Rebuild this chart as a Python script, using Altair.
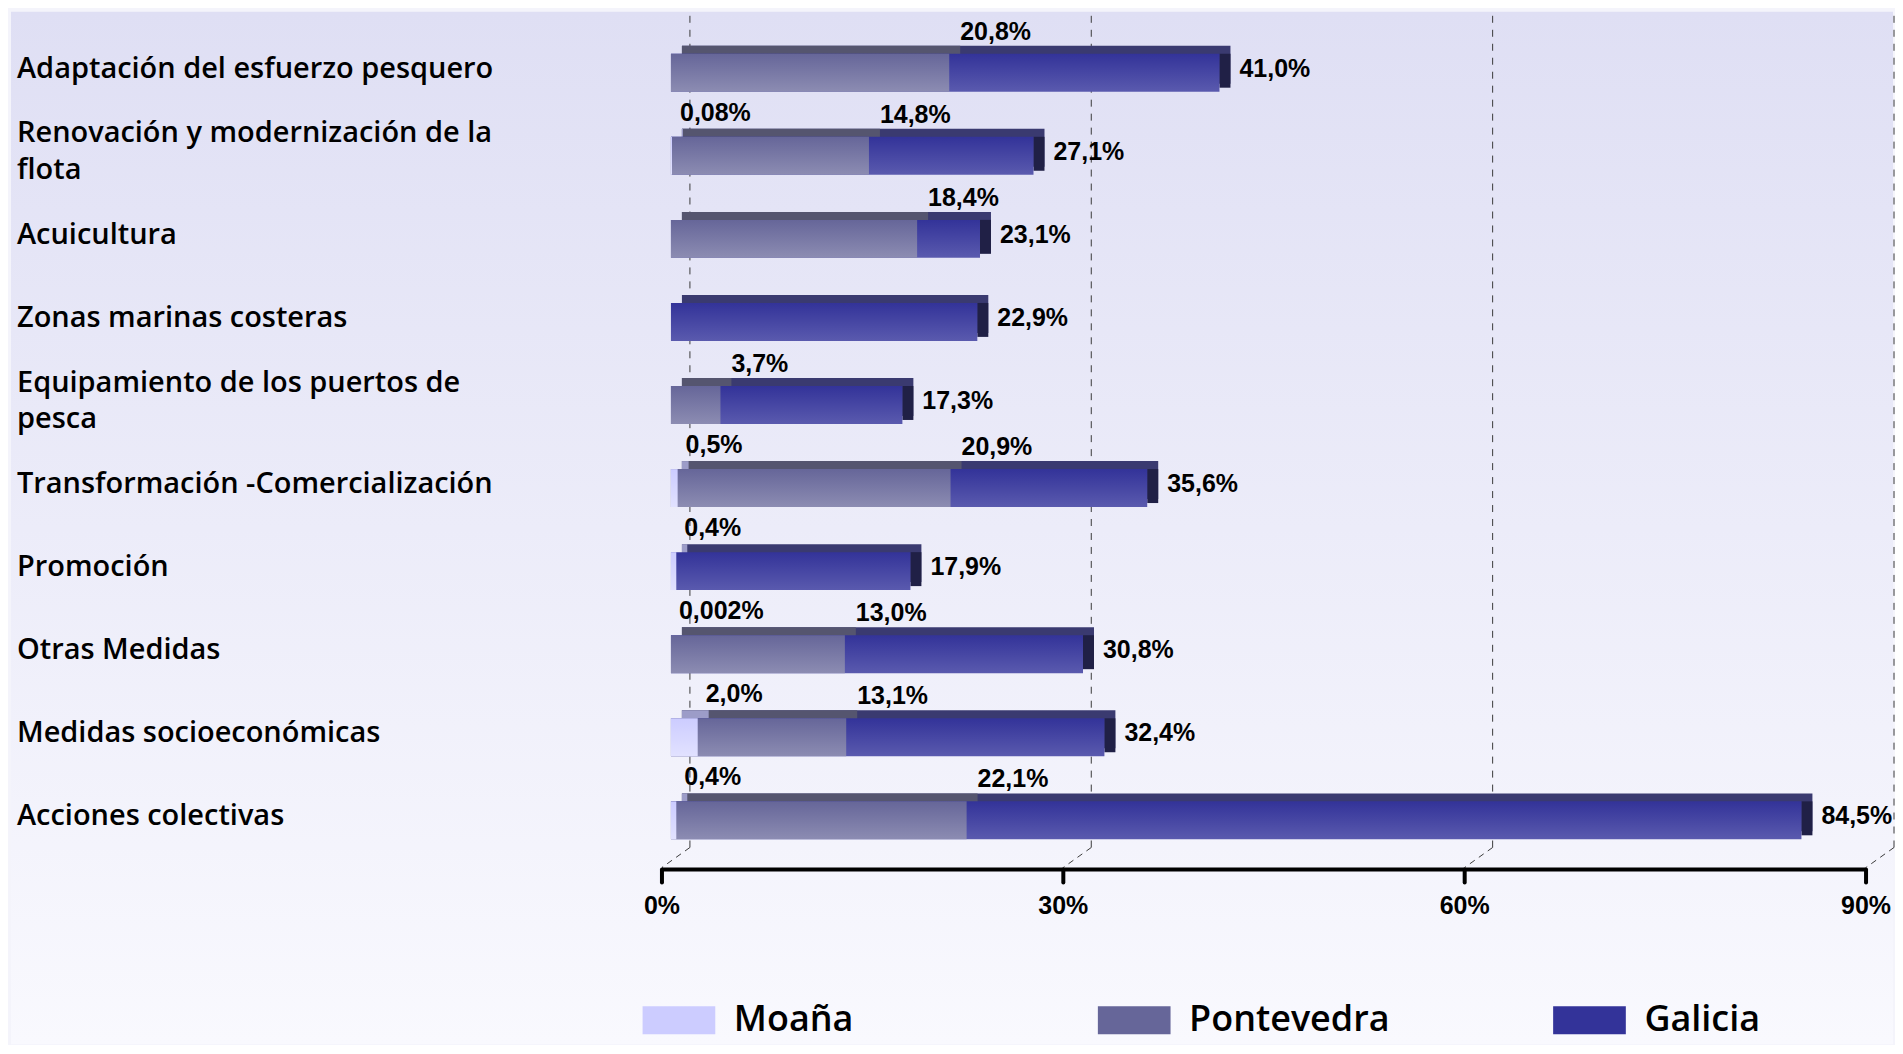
import altair as alt
import pandas as pd

categories = [
    "Adaptación del esfuerzo pesquero",
    "Renovación y modernización de la|flota",
    "Acuicultura",
    "Zonas marinas costeras",
    "Equipamiento de los puertos de|pesca",
    "Transformación -Comercialización",
    "Promoción",
    "Otras Medidas",
    "Medidas socioeconómicas",
    "Acciones colectivas",
]
moana = [None, 0.08, None, None, None, 0.5, 0.4, 0.002, 2.0, 0.4]
pontevedra = [20.8, 14.8, 18.4, None, 3.7, 20.9, None, 13.0, 13.1, 22.1]
galicia = [41.0, 27.1, 23.1, 22.9, 17.3, 35.6, 17.9, 30.8, 32.4, 84.5]

series_names = ["Moaña", "Pontevedra", "Galicia"]
legend_colors = ["#ccccff", "#666699", "#333399"]
tick_values = [0, 30, 60, 90]
tick_labels = ["0%", "30%", "60%", "90%"]


def fmt(v):
    if v is None:
        return None
    s = f"{v:.1f}" if v >= 0.1 else repr(v)
    return s.replace(".", ",") + "%"


df = pd.DataFrame({"cat": categories, "moana": moana, "pontevedra": pontevedra, "galicia": galicia})
df["moana_lbl"] = [fmt(v) for v in moana]
df["pont_lbl"] = [fmt(v) for v in pontevedra]
df["gal_lbl"] = [fmt(v) for v in galicia]
ticks_df = pd.DataFrame({"v": tick_values, "lbl": tick_labels})
legend_df = pd.DataFrame({"serie": series_names})

W, H = 1885, 1034

xscale = alt.Scale(domain=[0, 90], range=[661, 1867], nice=False, zero=False)
yscale = alt.Scale(domain=categories, range=[19.4, 851.4], paddingInner=0, paddingOuter=0)


def X(f):
    return alt.X(f + ":Q", scale=xscale, axis=None)


Y = alt.Y("cat:N", scale=yscale, axis=None)


def grad(top, bottom):
    return alt.LinearGradient(
        gradient="linear",
        stops=[alt.GradientStop(color=top, offset=0), alt.GradientStop(color=bottom, offset=1)],
        x1=0, x2=0, y1=0, y2=1,
    )


base = alt.Chart(df)
valid = {k: f"isValid(datum.{k})" for k in ["moana", "pontevedra", "galicia"]}

bg = alt.Chart(pd.DataFrame({"a": [0]})).mark_rect(color=grad("#dfdff4", "#f9f9fe")).encode(
    x=alt.value(0), x2=alt.value(W), y=alt.value(0), y2=alt.value(H)
)

grid = alt.Chart(ticks_df).mark_rule(strokeDash=[7, 7], color="#3a3a3a", strokeWidth=1, xOffset=19).encode(
    x=X("v"), y=alt.value(4), y2=alt.value(837)
)
diag = alt.Chart(ticks_df).mark_rule(strokeDash=[6, 5], color="#3a3a3a", strokeWidth=1, xOffset=19, x2Offset=-9).encode(
    x=X("v"), x2=alt.X2("v"), y=alt.value(837), y2=alt.value(857)
)

DX, DY = 11, 8
BH = 38

gal_back = base.transform_filter(valid["galicia"]).mark_bar(
    height=BH, yOffset=-DY, xOffset=DX, x2Offset=DX, color="#3a3a70"
).encode(x=X("galicia"), y=Y)
gal_side = base.transform_filter(valid["galicia"]).mark_bar(
    height=BH - 4, yOffset=-DY / 2 + 2, x2Offset=DX, color="#202046"
).encode(x=X("galicia"), x2=alt.X2("galicia"), y=Y)
pont_back = base.transform_filter(valid["pontevedra"]).mark_bar(
    height=BH, yOffset=-DY, xOffset=DX, x2Offset=DX, color="#55556f"
).encode(x=X("pontevedra"), y=Y)
moana_back = base.transform_filter(valid["moana"]).mark_bar(
    height=BH, yOffset=-DY, xOffset=DX, x2Offset=DX, color="#9c9cc8"
).encode(x=X("moana"), y=Y)

gal_front = base.transform_filter(valid["galicia"]).mark_bar(
    height=BH, color=grad("#333399", "#5a5aae")
).encode(x=X("galicia"), y=Y)
pont_front = base.transform_filter(valid["pontevedra"]).mark_bar(
    height=BH, color=grad("#666699", "#8c8cb2")
).encode(x=X("pontevedra"), y=Y)
moana_front = base.transform_filter(valid["moana"]).mark_bar(
    height=BH, color=grad("#ccccff", "#e2e2ff")
).encode(x=X("moana"), y=Y)

num_font = dict(font="Liberation Sans", fontWeight="bold", fontSize=25, color="black")
cat_font = dict(font="Open Sans", fontSize=29, fontWeight=600, color="black")

multi = "indexof(datum.cat, '|') >= 0"
cat_single = base.transform_filter("!(" + multi + ")").mark_text(
    align="left", baseline="middle", dy=-4, **cat_font
).encode(x=alt.value(6), y=Y, text="cat:N")
cat_multi = base.transform_filter(multi).mark_text(
    align="left", baseline="middle", lineBreak="|", lineHeight=37, dy=-22.5, **cat_font
).encode(x=alt.value(6), y=Y, text="cat:N")

gal_lbl = base.transform_filter(valid["galicia"]).mark_text(
    align="left", baseline="middle", dx=20, dy=-4, **num_font
).encode(x=X("galicia"), y=Y, text="gal_lbl:N")
pont_lbl = base.transform_filter(valid["pontevedra"]).mark_text(
    align="left", baseline="middle", dx=11, dy=-41, **num_font
).encode(x=X("pontevedra"), y=Y, text="pont_lbl:N")
moana_lbl = base.transform_filter(valid["moana"]).mark_text(
    align="left", baseline="middle", dx=8, dy=-43, **num_font
).encode(x=X("moana"), y=Y, text="moana_lbl:N")

axis_line = alt.Chart(ticks_df).mark_rule(strokeWidth=4, color="black", xOffset=-9, x2Offset=-9).encode(
    x=alt.X("min(v):Q", scale=xscale, axis=None), x2=alt.X2("max(v)"), y=alt.value(859)
)
axis_ticks = alt.Chart(ticks_df).mark_rule(strokeWidth=4, color="black", xOffset=-9, strokeCap="round").encode(
    x=X("v"), y=alt.value(859), y2=alt.value(872)
)
axis_lbls = alt.Chart(ticks_df).mark_text(baseline="middle", align="center", dx=-9, **num_font).encode(
    x=X("v"), y=alt.value(896), text="lbl:N"
)

legend_layer = alt.Chart(legend_df).mark_square(opacity=0).encode(
    x=alt.value(0), y=alt.value(0),
    color=alt.Color(
        "serie:N",
        scale=alt.Scale(domain=series_names, range=legend_colors),
        legend=alt.Legend(
            orient="none", legendX=651, legendY=992, direction="horizontal", title=None,
            symbolType="M-2.6,-1H2.6V1H-2.6Z", symbolSize=784, symbolStrokeWidth=0,
            symbolOpacity=1, labelFont="Open Sans", labelFontSize=36, labelFontWeight=600,
            labelColor="black", labelOffset=37, labelLimit=500, columnPadding=163,
            gridAlign="all", padding=0,
        ),
    ),
)

chart = alt.layer(
    bg, grid, diag,
    gal_back, gal_side, pont_back, moana_back,
    gal_front, pont_front, moana_front,
    axis_line, axis_ticks, axis_lbls,
    cat_single, cat_multi, gal_lbl, pont_lbl, moana_lbl,
    legend_layer,
).properties(width=W, height=H, padding=0, background="#f4f4fb").configure_view(strokeWidth=0)

chart.save("out.html", embed_options={"renderer": "svg", "actions": False})
